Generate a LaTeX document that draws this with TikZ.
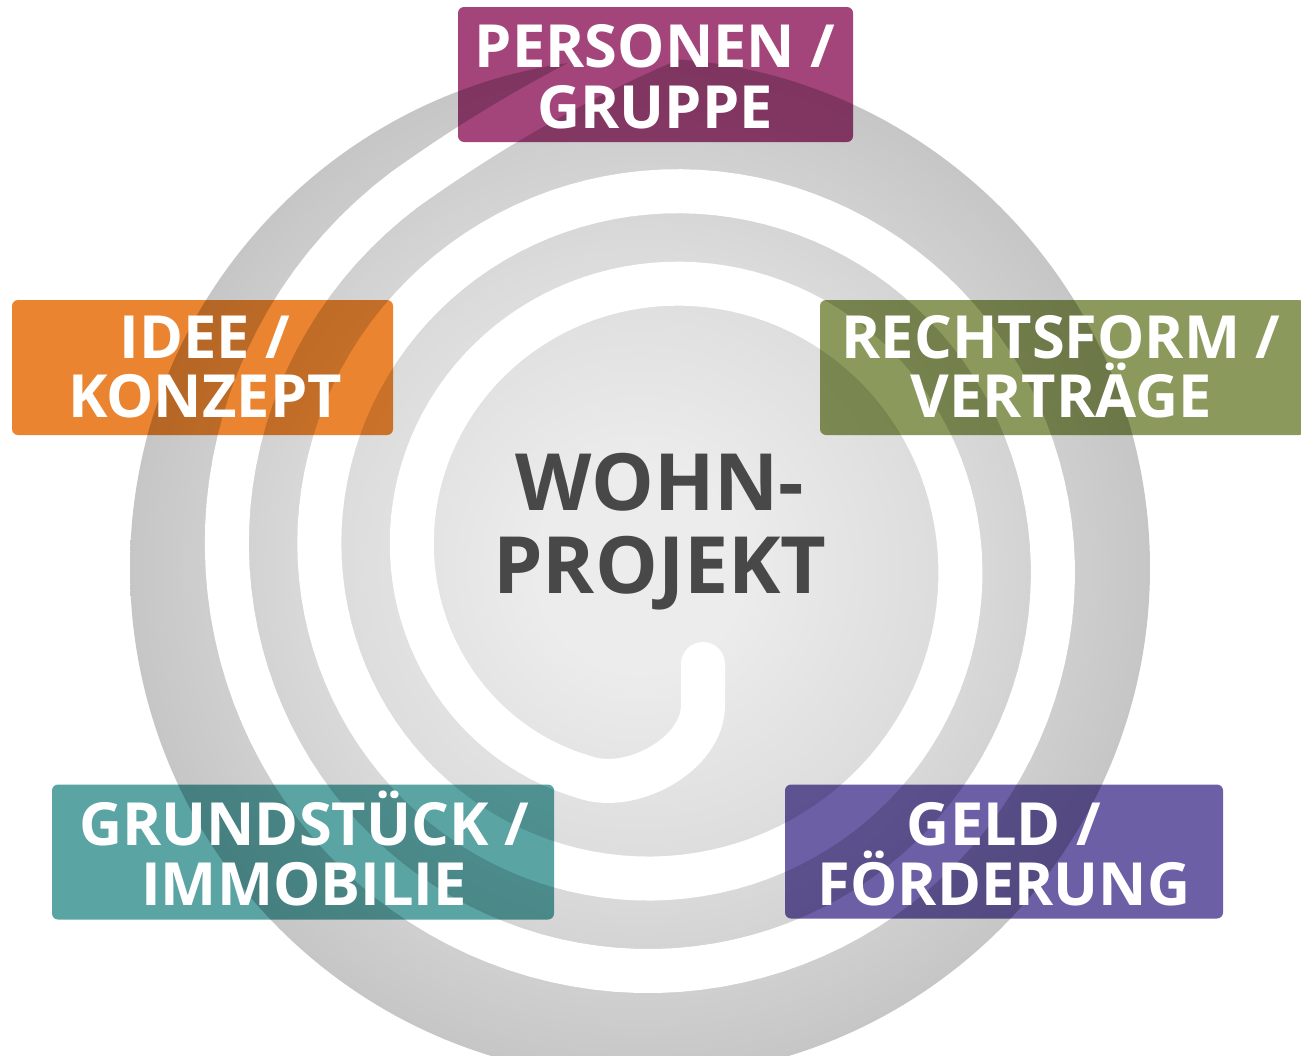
\documentclass[tikz,border=0pt]{standalone}
\usepackage{fontspec}
\setmainfont{Open Sans}
\definecolor{cPers}{HTML}{A3457B}
\definecolor{cIdee}{HTML}{EA8430}
\definecolor{cRecht}{HTML}{8B9A5C}
\definecolor{cGrund}{HTML}{5AA4A4}
\definecolor{cGeld}{HTML}{6C5FA6}
\definecolor{gA}{HTML}{ECECEC}
\definecolor{gB}{HTML}{DCDCDC}
\definecolor{gC}{HTML}{C6C6C6}
\definecolor{gD}{HTML}{ABABAB}
\definecolor{cCenter}{HTML}{484848}
\pgfdeclareradialshading{diskshade}{\pgfpoint{0bp}{0bp}}{color(0bp)=(gA); color(5bp)=(gA); color(15bp)=(gB); color(25bp)=(gC); color(35.4bp)=(gD); color(50bp)=(gD)}
\tikzset{
  tagbox/.style={rounded corners=6pt, blend mode=multiply, inner sep=0pt, draw=none},
  lbl/.style={text=white, font=\bfseries\fontsize{59.5}{60}\selectfont, inner sep=0pt, anchor=base},
  ctr/.style={text=cCenter, font=\bfseries\fontsize{79}{83}\selectfont, inner sep=0pt, anchor=base},
  spiral/.style={draw=white, line width=44pt, line cap=round, line join=round}
}
\begin{document}
\begin{tikzpicture}[x=1pt,y=-1pt]
\useasboundingbox (0,0) rectangle (1301,1055);
\clip (0,0) rectangle (1301,1055);
% grey disc
\shade[shading=diskshade] (640,568) circle[radius=510pt];
% white spiral gap
\draw[spiral] (703,664) -- (703,705) .. controls (703,755) and (630,794) .. (583.4,776.8)
  -- plot[domain=20:865, samples=300] ({663+(227.7+0.2571*\x)*cos(270-\x)}, {558-(227.7+0.2571*\x)*sin(270-\x)})
  .. controls (470,143) and (560,85) .. (680,35);
% centre text
\node[ctr] (c1) at (660,510) {WOHN-};
\node[ctr] (c2) at (660,593) {PROJEKT};
% boxes
\node[tagbox, fill=cPers, minimum width=395pt, minimum height=135pt] (persBox) at (655.5,74.5) {};
\node[tagbox, fill=cIdee, minimum width=381pt, minimum height=135pt] (ideeBox) at (202.5,367.5) {};
\node[tagbox, fill=cRecht, minimum width=485pt, minimum height=135pt] (rechtBox) at (1062.5,367.5) {};
\node[tagbox, fill=cGrund, minimum width=502pt, minimum height=135pt] (grundBox) at (303,852) {};
\node[tagbox, fill=cGeld, minimum width=438pt, minimum height=134pt] (geldBox) at (1004,851.5) {};
% labels
\node[lbl] (p1) at (655,67) {PERSONEN /};
\node[lbl] (p2) at (655,128) {GRUPPE};
\node[lbl] (i1) at (205,358) {IDEE /};
\node[lbl] (i2) at (205,417) {KONZEPT};
\node[lbl] (r1) at (1061,358) {RECHTSFORM /};
\node[lbl] (r2) at (1061,417) {VERTRÄGE};
\node[lbl] (g1) at (304,845) {GRUNDSTÜCK /};
\node[lbl] (g2) at (304,905) {IMMOBILIE};
\node[lbl] (f1) at (1004,845) {GELD /};
\node[lbl] (f2) at (1004,905) {FÖRDERUNG};
\end{tikzpicture}
\end{document}
